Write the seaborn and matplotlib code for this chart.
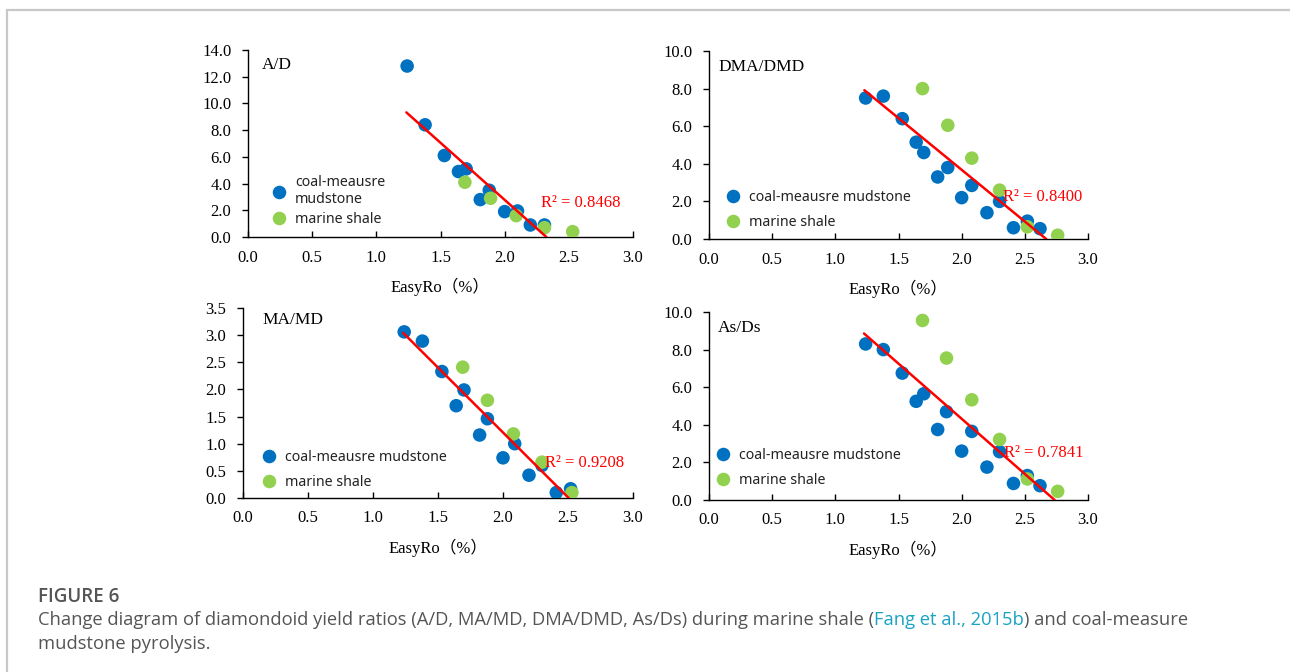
import numpy as np
import pandas as pd
import matplotlib
matplotlib.use("Agg")
import matplotlib.pyplot as plt
import seaborn as sns

# ---------------- data ----------------
# A/D
ad_blue_x = [1.24, 1.38, 1.53, 1.64, 1.70, 1.88, 1.81, 2.00, 2.10, 2.20, 2.31]
ad_blue_y = [12.8, 8.4, 6.1, 4.9, 5.1, 3.5, 2.8, 1.9, 1.95, 0.9, 0.9]
ad_green_x = [1.69, 1.89, 2.09, 2.31, 2.53]
ad_green_y = [4.1, 2.9, 1.6, 0.7, 0.4]
ad_fit = (-8.55, 19.88, 1.234)   # slope, intercept, x start
ad_r2 = "R² = 0.8468"

# DMA/DMD
dma_blue_x = [1.24, 1.38, 1.53, 1.64, 1.70, 1.81, 1.89, 2.00, 2.08, 2.20, 2.30, 2.41, 2.52, 2.62]
dma_blue_y = [7.5, 7.6, 6.4, 5.15, 4.6, 3.3, 3.8, 2.2, 2.85, 1.4, 2.0, 0.6, 0.95, 0.55]
dma_green_x = [1.69, 1.89, 2.08, 2.30, 2.52, 2.76]
dma_green_y = [8.0, 6.05, 4.3, 2.6, 0.65, 0.2]
dma_fit = (-5.50, 14.68, 1.23)
dma_r2 = "R² = 0.8400"

# MA/MD
ma_blue_x = [1.24, 1.38, 1.53, 1.70, 1.64, 1.88, 1.82, 2.00, 2.09, 2.20, 2.30, 2.41, 2.52]
ma_blue_y = [3.06, 2.89, 2.33, 1.99, 1.70, 1.46, 1.16, 0.74, 1.00, 0.42, 0.60, 0.10, 0.17]
ma_green_x = [1.69, 1.88, 2.08, 2.30, 2.53]
ma_green_y = [2.41, 1.80, 1.18, 0.66, 0.10]
ma_fit = (-2.39, 5.987, 1.233)
ma_r2 = "R² = 0.9208"

# As/Ds
as_blue_x = [1.24, 1.38, 1.53, 1.64, 1.70, 1.81, 1.88, 2.00, 2.08, 2.20, 2.30, 2.41, 2.52, 2.62]
as_blue_y = [8.3, 8.0, 6.75, 5.25, 5.65, 3.75, 4.7, 2.6, 3.65, 1.75, 2.57, 0.88, 1.3, 0.76]
as_green_x = [1.69, 1.88, 2.08, 2.30, 2.52, 2.76]
as_green_y = [9.55, 7.55, 5.33, 3.22, 1.12, 0.46]
as_fit = (-5.87, 16.06, 1.227)
as_r2 = "R² = 0.7841"

series_names = ["coal-meausre mudstone", "marine shale"]
colors = {"coal-meausre mudstone": "#0070C0", "marine shale": "#92D050"}

x_ticks = [0.0, 0.5, 1.0, 1.5, 2.0, 2.5, 3.0]
xlabel = "EasyRo（%）"

caption_head = "FIGURE 6"
caption_1a = "Change diagram of diamondoid yield ratios (A/D, MA/MD, DMA/DMD, As/Ds) during marine shale ("
caption_link = "Fang et al., 2015b"
caption_1b = ") and coal-measure"
caption_2 = "mudstone pyrolysis."

# ---------------- figure ----------------
W, H = 1290, 672
sns.set_theme(style="white")
plt.rcParams["font.family"] = ["Liberation Serif", "Noto Sans CJK SC", "DejaVu Sans"]
fig = plt.figure(figsize=(W / 100, H / 100), dpi=100)
fig.patch.set_facecolor("white")

# card border (top + left)
fig.add_artist(plt.Line2D([6.5 / W, 6.5 / W], [0, 1 - 10 / H], transform=fig.transFigure,
                          color="#c8c8c8", lw=1.6))
fig.add_artist(plt.Line2D([6.5 / W, 1], [1 - 10 / H, 1 - 10 / H], transform=fig.transFigure,
                          color="#c8c8c8", lw=1.6))


def px_axes(left, right, top, bottom):
    return [left / W, 1 - bottom / H, (right - left) / W, (bottom - top) / H]


panels = [
    dict(rect=px_axes(248, 633, 50, 237), bx=ad_blue_x, by=ad_blue_y, gx=ad_green_x, gy=ad_green_y,
         fit=ad_fit, r2=ad_r2, ymax=14.0, ystep=2.0, title="A/D", title_px=(262, 65),
         r2_px=(541, 203), leg_px=(265, 201), wrap=True),
    dict(rect=px_axes(709, 1088, 51, 239), bx=dma_blue_x, by=dma_blue_y, gx=dma_green_x, gy=dma_green_y,
         fit=dma_fit, r2=dma_r2, ymax=10.0, ystep=2.0, title="DMA/DMD", title_px=(718, 67),
         r2_px=(1003, 197), leg_px=(719, 210), wrap=False),
    dict(rect=px_axes(243, 633, 308, 498), bx=ma_blue_x, by=ma_blue_y, gx=ma_green_x, gy=ma_green_y,
         fit=ma_fit, r2=ma_r2, ymax=3.5, ystep=0.5, title="MA/MD", title_px=(262, 320),
         r2_px=(545, 463), leg_px=(255, 470), wrap=False),
    dict(rect=px_axes(709, 1088, 312, 500), bx=as_blue_x, by=as_blue_y, gx=as_green_x, gy=as_green_y,
         fit=as_fit, r2=as_r2, ymax=10.0, ystep=2.0, title="As/Ds", title_px=(718, 328),
         r2_px=(1004, 453), leg_px=(709, 468), wrap=False),
]

for p in panels:
    ax = fig.add_axes(p["rect"])
    df = pd.DataFrame({
        "x": list(p["bx"]) + list(p["gx"]),
        "y": list(p["by"]) + list(p["gy"]),
        "series": [series_names[0]] * len(p["bx"]) + [series_names[1]] * len(p["gx"]),
    })
    sns.scatterplot(data=df, x="x", y="y", hue="series", palette=colors, s=95,
                    edgecolor="none", ax=ax, legend=True, zorder=3)
    m, b, x0 = p["fit"]
    x1 = -b / m
    sns.lineplot(x=[x0, x1], y=[m * x0 + b, m * x1 + b], color="#FF0000", lw=1.8, ax=ax, zorder=4)

    ax.set_xlim(0, 3.0)
    ax.set_ylim(0, p["ymax"])
    ax.set_xticks(x_ticks)
    ax.set_xticklabels([f"{t:.1f}" for t in x_ticks])
    yt = np.arange(0, p["ymax"] + 1e-9, p["ystep"])
    ax.set_yticks(yt)
    ax.set_yticklabels([f"{t:.1f}" for t in yt])
    for s in ["top", "right"]:
        ax.spines[s].set_visible(False)
    for s in ["left", "bottom"]:
        ax.spines[s].set_color("black")
        ax.spines[s].set_linewidth(1.0)
    ax.tick_params(axis="x", direction="in", length=4, width=1, colors="black",
                   labelsize=12, pad=9, bottom=True)
    ax.tick_params(axis="y", direction="out", length=4, width=1, colors="black",
                   labelsize=12, pad=8, left=True)
    ax.set_xlabel(xlabel, fontsize=12, labelpad=9, color="black")
    ax.set_ylabel("")
    ax.grid(False)

    # legend
    handles, labels = ax.get_legend_handles_labels()
    labs = ["coal-meausre\nmudstone" if (p["wrap"] and l == series_names[0]) else l for l in labels]
    lx, ly = p["leg_px"]
    leg = ax.legend(handles, labs, loc="center left", bbox_to_anchor=(lx / W, 1 - ly / H),
                    bbox_transform=fig.transFigure, frameon=False, borderpad=0,
                    handlelength=1.0, handletextpad=0.6,
                    labelspacing=0.3 if p["wrap"] else 0.65,
                    prop={"family": ["Noto Sans", "DejaVu Sans"], "size": 10.2})
    for t in leg.get_texts():
        t.set_color("#222222")

    tx, ty = p["title_px"]
    fig.text(tx / W, 1 - ty / H, p["title"], fontsize=12.5, va="center", ha="left",
             family=["Liberation Serif"], color="black")
    rx, ry = p["r2_px"]
    fig.text(rx / W, 1 - ry / H, p["r2"], fontsize=12, va="center", ha="left",
             family=["Liberation Serif", "DejaVu Serif"], color="#FF0000")

# caption
cap_font = ["Open Sans", "DejaVu Sans"]
fig.text(38 / W, 1 - 597 / H, caption_head, fontsize=13.5, fontweight="semibold",
         family=cap_font, color="#555555", va="center", ha="left")
t1 = fig.text(38 / W, 1 - 620 / H, caption_1a, fontsize=13.25, family=cap_font,
              color="#555555", va="center", ha="left")
fig.canvas.draw()
r = fig.canvas.get_renderer()
bb = t1.get_window_extent(renderer=r)
t2 = fig.text(bb.x1 / W, 1 - 620 / H, caption_link, fontsize=13.25, family=cap_font,
              color="#1aa3c2", va="center", ha="left")
bb2 = t2.get_window_extent(renderer=r)
fig.text(bb2.x1 / W, 1 - 620 / H, caption_1b, fontsize=13.25, family=cap_font,
         color="#555555", va="center", ha="left")
fig.text(38 / W, 1 - 644 / H, caption_2, fontsize=13.25, family=cap_font,
         color="#555555", va="center", ha="left")

fig.savefig("out.png", dpi=100, facecolor="white")
